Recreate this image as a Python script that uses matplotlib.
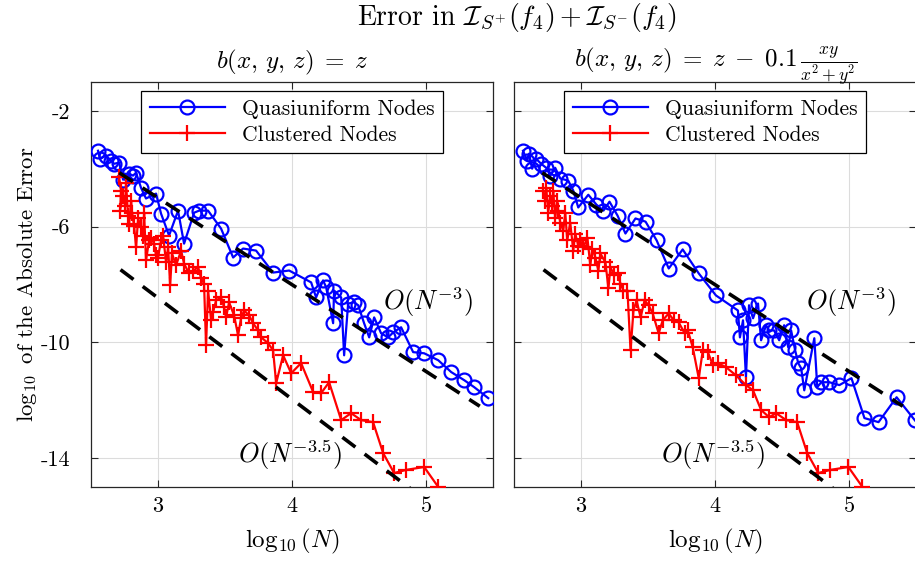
"""
Error of the integrals over S+ and S- versus number of nodes.
"""
import matplotlib
matplotlib.use("Agg")
import matplotlib.pyplot as plt

plt.rcParams["font.family"] = ["cmr10", "DejaVu Serif"]
plt.rcParams["mathtext.fontset"] = "cm"
plt.rcParams["axes.unicode_minus"] = False

# left panel, b(x,y,z) = z
quasi_x_left = [2.552, 2.567, 2.612, 2.649, 2.672, 2.709, 2.739, 2.784, 2.813, 2.836,
                2.873, 2.910, 2.985, 3.022, 3.082, 3.149, 3.194, 3.269, 3.306, 3.373,
                3.470, 3.560, 3.634, 3.731, 3.858, 3.978, 4.142, 4.179, 4.231, 4.254,
                4.306, 4.313, 4.366, 4.388, 4.418, 4.463, 4.493, 4.537, 4.575, 4.612,
                4.664, 4.716, 4.754, 4.813, 4.903, 4.985, 5.090, 5.187, 5.284, 5.358,
                5.463]
quasi_y_left = [-3.38, -3.66, -3.55, -3.72, -3.83, -3.79, -4.38, -4.17, -4.24, -4.14,
                -4.66, -5.03, -4.86, -5.55, -6.31, -5.45, -6.59, -5.52, -5.45, -5.45,
                -6.07, -7.07, -6.76, -6.83, -7.59, -7.52, -7.93, -8.45, -7.86, -8.10,
                -9.34, -8.21, -8.45, -10.45, -8.66, -8.62, -8.72, -9.34, -9.83, -9.14,
                -9.69, -9.83, -9.66, -9.48, -10.34, -10.38, -10.62, -11.03, -11.31, -11.55,
                -11.93]
clust_x_left = [2.709, 2.724, 2.716, 2.739, 2.754, 2.761, 2.776, 2.784, 2.799, 2.806,
                2.821, 2.836, 2.851, 2.873, 2.888, 2.896, 2.910, 2.933, 2.948, 2.970,
                2.985, 3.000, 3.022, 3.037, 3.060, 3.075, 3.090, 3.104, 3.134, 3.172,
                3.194, 3.231, 3.261, 3.299, 3.321, 3.343, 3.358, 3.373, 3.396, 3.410,
                3.433, 3.470, 3.493, 3.507, 3.530, 3.567, 3.597, 3.619, 3.642, 3.679,
                3.709, 3.746, 3.769, 3.821, 3.858, 3.881, 3.933, 3.993, 4.067, 4.157,
                4.216, 4.276, 4.366, 4.440, 4.515, 4.604, 4.679, 4.761, 4.851, 4.985,
                5.090, 5.187]
clust_y_left = [-4.28, -4.76, -5.45, -4.93, -5.28, -4.48, -5.62, -5.90, -5.10, -5.52,
                -5.97, -6.72, -5.72, -6.03, -6.31, -5.52, -7.17, -6.48, -6.38, -6.59,
                -7.00, -7.07, -6.48, -6.31, -7.24, -6.72, -8.03, -6.93, -7.34, -6.83,
                -7.28, -7.62, -7.52, -7.41, -7.79, -7.97, -10.10, -8.21, -9.24, -8.97,
                -8.55, -8.45, -8.79, -9.14, -8.62, -9.07, -9.76, -9.17, -8.90, -9.07,
                -9.34, -9.59, -9.83, -10.03, -10.28, -11.41, -10.45, -11.07, -10.72, -11.72,
                -11.76, -11.38, -12.69, -12.45, -12.69, -12.76, -13.83, -14.52, -14.41, -14.31,
                -15.00, -15.66]

# right panel, b(x,y,z) = z - 0.1 xy/(x^2+y^2)
quasi_x_right = [2.567, 2.597, 2.612, 2.635, 2.665, 2.702, 2.740, 2.770, 2.807, 2.845,
                 2.904, 2.942, 2.979, 3.054, 3.114, 3.167, 3.212, 3.272, 3.331, 3.406,
                 3.481, 3.564, 3.654, 3.758, 3.878, 4.006, 4.170, 4.185, 4.208, 4.230,
                 4.253, 4.283, 4.320, 4.343, 4.380, 4.403, 4.440, 4.478, 4.515, 4.545,
                 4.567, 4.597, 4.620, 4.642, 4.665, 4.740, 4.762, 4.792, 4.852, 4.927,
                 5.017, 5.114, 5.219, 5.354, 5.489, 5.616]
quasi_y_right = [-3.38, -3.72, -3.48, -4.00, -3.66, -3.83, -3.97, -4.24, -3.97, -4.34,
                 -4.41, -4.76, -5.34, -4.90, -5.24, -5.45, -5.14, -5.62, -6.24, -5.72,
                 -5.83, -6.48, -7.45, -6.79, -7.62, -8.38, -8.90, -9.83, -9.24, -11.21,
                 -8.72, -9.17, -8.66, -9.93, -9.41, -9.59, -9.59, -9.93, -9.41, -10.17,
                 -9.59, -10.28, -10.72, -10.90, -11.66, -9.86, -11.55, -11.38, -11.38, -11.48,
                 -11.24, -12.62, -12.76, -11.90, -12.69, -13.38]
clust_x_right = [2.717, 2.732, 2.740, 2.755, 2.770, 2.785, 2.792, 2.807, 2.822, 2.830,
                 2.845, 2.867, 2.882, 2.897, 2.919, 2.942, 2.957, 2.979, 2.994, 3.017,
                 3.047, 3.069, 3.084, 3.107, 3.129, 3.144, 3.182, 3.204, 3.219, 3.249,
                 3.272, 3.294, 3.316, 3.346, 3.369, 3.391, 3.414, 3.444, 3.474, 3.504,
                 3.534, 3.579, 3.609, 3.654, 3.691, 3.728, 3.773, 3.796, 3.833, 3.878,
                 3.908, 3.946, 3.983, 4.021, 4.081, 4.155, 4.230, 4.283, 4.343, 4.403,
                 4.455, 4.530, 4.612, 4.687, 4.770, 4.860, 4.994, 5.099, 5.197]
clust_y_right = [-4.76, -5.10, -4.66, -5.52, -4.93, -5.28, -4.76, -5.72, -5.10, -5.45,
                 -5.86, -6.14, -5.52, -6.48, -5.86, -6.83, -6.24, -6.66, -6.48, -6.72,
                 -6.38, -7.34, -6.76, -7.07, -7.52, -6.93, -7.24, -8.14, -7.41, -7.69,
                 -7.62, -7.97, -8.21, -8.21, -10.28, -8.90, -8.55, -9.14, -8.55, -8.72,
                 -9.00, -9.69, -9.24, -9.00, -9.24, -9.31, -9.69, -9.59, -10.17, -11.24,
                 -10.28, -10.34, -10.79, -10.72, -10.86, -11.14, -11.48, -11.66, -12.34, -12.59,
                 -12.45, -12.69, -12.76, -13.83, -14.52, -14.41, -14.31, -15.00, -15.66]

# reference slopes (end points)
ref3_x = [2.71, 5.40]
ref3_y = [-4.14, -12.21]
ref35_x = [2.72, 5.00]
ref35_y = [-7.49, -15.47]

xticks = [3, 4, 5]
yticks = [-14, -10, -6, -2]
ytick_labels = ["-14", "-10", "-6", "-2"]

panels = [
    (r"$b(x,\,y,\,z)\;=\;z$", quasi_x_left, quasi_y_left, clust_x_left, clust_y_left),
    (r"$b(x,\,y,\,z)\;=\;z\;-\;0.1\,\frac{xy}{x^2+y^2}$", quasi_x_right, quasi_y_right,
     clust_x_right, clust_y_right),
]

fig = plt.figure(figsize=(9.15, 5.61), dpi=100)
axes = [fig.add_axes([0.0995, 0.132, 0.4395, 0.722]),
        fig.add_axes([0.5618, 0.132, 0.4395, 0.722])]

for i, (ax, (title, qx, qy, cx, cy)) in enumerate(zip(axes, panels)):
    ax.plot(qx, qy, "-o", color="blue", lw=1.6, ms=10, mfc="none", mew=1.6,
            label="Quasiuniform Nodes", zorder=3)
    ax.plot(cx, cy, "-+", color="red", lw=1.6, ms=12, mew=1.6,
            label="Clustered Nodes", zorder=3)
    ax.plot(ref3_x, ref3_y, color="black", lw=2.6, ls=(0, (4.5, 3.2)), zorder=4)
    ax.plot(ref35_x, ref35_y, color="black", lw=2.6, ls=(0, (4.5, 3.2)), zorder=4)
    ax.text(4.68, -8.62, r"$O(N^{-3})$", fontsize=19, va="center", ha="left")
    ax.text(3.60, -13.9, r"$O(N^{-3.5})$", fontsize=19, va="center", ha="left")

    ax.set_xlim(2.5, 5.5)
    ax.set_ylim(-15, -1)
    ax.set_xticks(xticks)
    ax.set_yticks(yticks)
    if i == 0:
        ax.set_yticklabels(ytick_labels)
        ax.set_ylabel(r"$\log_{10}$ of the Absolute Error", fontsize=16.5, labelpad=1)
    else:
        ax.set_yticklabels([])
    ax.set_xlabel(r"$\log_{10}(N)$", fontsize=18, labelpad=8)
    ax.set_title(title, fontsize=18, pad=10)
    ax.grid(True, color="#dcdcdc", lw=0.8)
    ax.set_axisbelow(True)
    ax.tick_params(direction="in", top=True, right=True, labelsize=16,
                   length=5, color="#262626")
    ax.tick_params(axis="y", pad=15)
    ax.tick_params(axis="x", pad=7)
    for s in ax.spines.values():
        s.set_color("#262626")
        s.set_linewidth(0.9)
    leg = ax.legend(loc="upper center", fontsize=15.5, handlelength=3.5,
                    fancybox=False, framealpha=1, edgecolor="black",
                    borderaxespad=0.4, labelspacing=0.3)
    leg.get_frame().set_linewidth(0.9)

fig.text(0.565, 0.968, r"Error in $\mathcal{I}_{S^{+}}(f_4) + \mathcal{I}_{S^{-}}(f_4)$",
         fontsize=20, ha="center", va="center")

fig.savefig("out.png", dpi=100)
